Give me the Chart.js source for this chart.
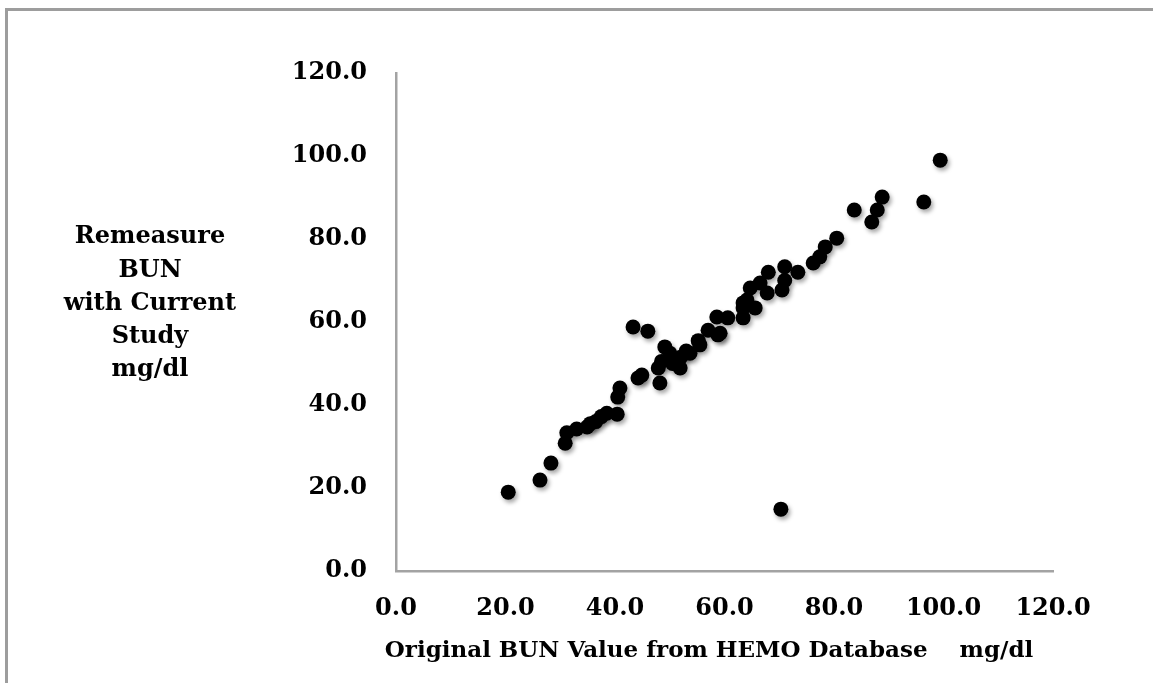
<!DOCTYPE html>
<html>
<head>
    <title>BUN Remeasure vs HEMO Database</title>
    <script src="https://cdn.jsdelivr.net/npm/chart.js"></script>
    <style>
        body {
            margin: 0;
            padding: 0;
            background: white;
            overflow: hidden;
        }
        .frame {
            position: absolute;
            left: 5px;
            top: 8px;
            width: 1300px;
            height: 800px;
            border: 3px solid #9d9d9d;
        }
        .wrap {
            position: absolute;
            left: 0;
            top: 0;
            width: 1153px;
            height: 683px;
        }
    </style>
</head>
<body>
    <div class="frame"></div>
    <div class="wrap">
        <canvas id="chart" width="1153" height="683"></canvas>
    </div>

<script>
    // Original BUN (x) vs remeasured BUN (y), mg/dl
    const originalBun = [
        20.5, 26.3, 28.3, 30.9, 31.2, 33.0, 34.9, 35.5, 36.5, 37.5,
        38.5, 40.4, 40.5, 40.9, 43.3, 46.0, 44.2, 44.9, 48.2, 47.9,
        48.5, 49.1, 50.0, 50.5, 51.9, 52.0, 53.0, 53.7, 55.5, 55.2,
        57.0, 58.8, 58.6, 59.2, 60.6, 63.4, 63.4, 65.6, 64.1, 63.4,
        64.7, 66.5, 67.8, 68.0, 70.5, 71.0, 71.0, 73.4, 76.2, 77.4,
        78.4, 80.5, 83.7, 86.9, 87.9, 88.8, 96.4, 99.4, 70.3
    ];
    const remeasuredBun = [
        19.0, 21.9, 26.0, 30.8, 33.3, 34.2, 34.7, 35.5, 36.0, 37.2,
        38.0, 37.8, 41.9, 44.1, 58.8, 57.8, 46.5, 47.2, 45.3, 48.9,
        50.5, 54.0, 52.5, 50.0, 48.9, 51.5, 53.0, 52.5, 54.5, 55.5,
        58.0, 56.9, 61.2, 57.3, 61.0, 61.0, 63.4, 63.4, 65.3, 64.6,
        68.2, 69.4, 67.0, 72.0, 67.7, 70.0, 73.3, 72.0, 74.2, 75.7,
        78.1, 80.2, 87.0, 84.1, 87.0, 90.1, 88.9, 99.0, 14.9
    ];
    const yTitleLines = ['Remeasure', 'BUN', 'with Current', 'Study', 'mg/dl'];
    const xTitle = 'Original BUN Value from HEMO Database    mg/dl';

    const points = originalBun.map((x, i) => ({ x: x, y: remeasuredBun[i] }));

    const fontFamily = '"DejaVu Serif", serif';
    const axisColor = '#a3a3a3';

    // soft drop shadow under the markers
    const shadowPlugin = {
        id: 'markerShadow',
        beforeDatasetsDraw(chart) {
            const ctx = chart.ctx;
            ctx.save();
            ctx.shadowColor = 'rgba(0, 0, 0, 0.35)';
            ctx.shadowBlur = 4;
            ctx.shadowOffsetX = 2;
            ctx.shadowOffsetY = 3;
        },
        afterDatasetsDraw(chart) {
            chart.ctx.restore();
        }
    };

    // axis titles: y title is horizontal and stacked, x title sits a bit left of centre
    const titlesPlugin = {
        id: 'axisTitles',
        afterDraw(chart) {
            const ctx = chart.ctx;
            ctx.save();
            ctx.fillStyle = '#000';
            ctx.textAlign = 'center';
            ctx.textBaseline = 'middle';
            ctx.font = 'bold 24px ' + fontFamily;
            yTitleLines.forEach((line, i) => {
                ctx.fillText(line, 150, 237 + i * 33.3);
            });
            ctx.font = 'bold 23px ' + fontFamily;
            ctx.fillText(xTitle, 709, 651);
            ctx.restore();
        }
    };

    const ctx = document.getElementById('chart').getContext('2d');
    new Chart(ctx, {
        type: 'scatter',
        data: {
            datasets: [{
                data: points,
                backgroundColor: '#000',
                borderWidth: 0,
                pointRadius: 7.5,
                pointHoverRadius: 7.5
            }]
        },
        options: {
            responsive: false,
            animation: false,
            layout: {
                padding: { left: 0, top: 73, right: 100, bottom: 0 }
            },
            plugins: {
                legend: { display: false },
                tooltip: { enabled: false }
            },
            scales: {
                x: {
                    type: 'linear',
                    min: 0,
                    max: 120,
                    afterFit(scale) { scale.height = 112; },
                    grid: { display: false, drawTicks: false },
                    border: { display: true, color: axisColor, width: 2.5 },
                    ticks: {
                        stepSize: 20,
                        padding: 23,
                        color: '#000',
                        font: { family: fontFamily, size: 24, weight: 'bold' },
                        callback: v => v.toFixed(1)
                    }
                },
                y: {
                    type: 'linear',
                    min: 0,
                    max: 120,
                    afterFit(scale) { scale.width = 396; },
                    grid: { display: false, drawTicks: false },
                    border: { display: true, color: axisColor, width: 2.5 },
                    ticks: {
                        stepSize: 20,
                        padding: 29,
                        color: '#000',
                        font: { family: fontFamily, size: 24, weight: 'bold' },
                        callback: v => v.toFixed(1)
                    }
                }
            }
        },
        plugins: [shadowPlugin, titlesPlugin]
    });
</script>
</body>
</html>
